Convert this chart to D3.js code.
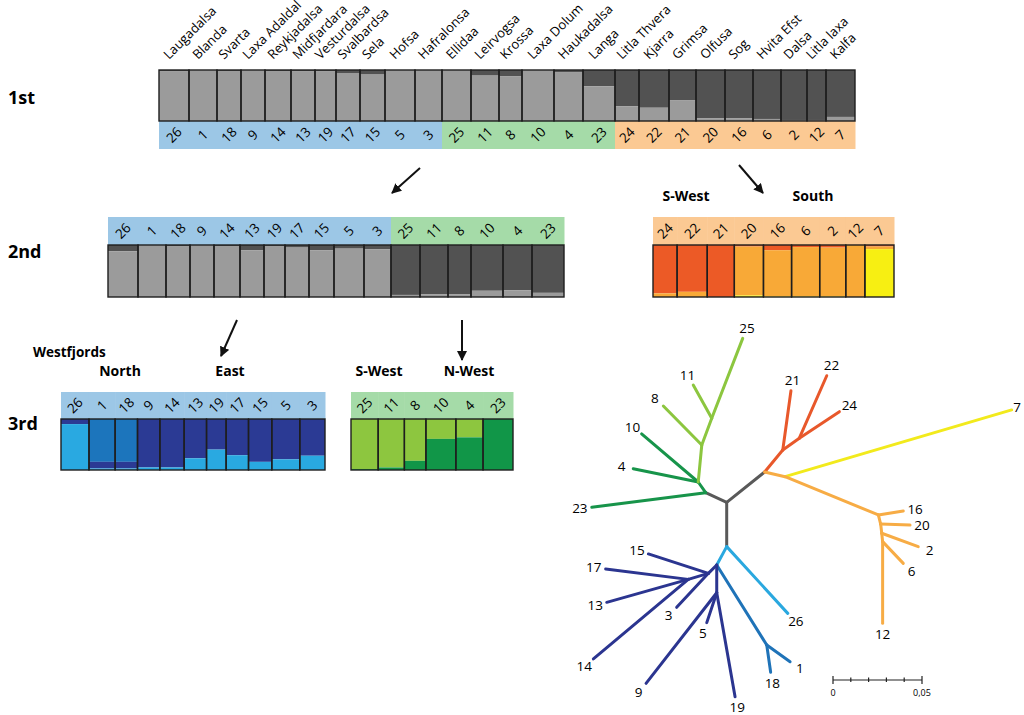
<!DOCTYPE html>
<html>
<head>
<meta charset="utf-8">
<script src="https://cdn.jsdelivr.net/npm/d3@7"></script>
<style>
  body { margin: 0; background: #fff; }
  text { font-family: "Open Sans", "Noto Sans", sans-serif; fill: #000; }
</style>
</head>
<body>
<svg id="fig" width="1024" height="715"></svg>
<script>
// --- Data ---
const pops = ["26","1","18","9","14","13","19","17","15","5","3","25","11","8","10","4","23","24","22","21","20","16","6","2","12","7"];
const riverNames = ["Laugadalsa","Blanda","Svarta","Laxa Adaldal","Reykjadalsa","Midfjardara","Vesturdalsa","Svalbardsa","Sela","Hofsa","Hafralonsa","Ellidaa","Leirvogsa","Krossa","Laxa Dolum","Haukadalsa","Langa","Litla Thvera","Kjarra","Grimsa","Olfusa","Sog","Hvita Efst","Dalsa","Litla laxa","Kalfa"];
const sampleSizes = [30,28,24,24,26,24,21,24,25,30,27,29,28,23,32,29,32,24,30,27,29,28,28,26,19,29];
const firstGroup = ["NE","NE","NE","NE","NE","NE","NE","NE","NE","NE","NE","W","W","W","W","W","W","S","S","S","S","S","S","S","S","S"];

// 1st level: dark-gray membership (rest light gray)
const level1Dark = [0.03,0.01,0.02,0.01,0.02,0.03,0.03,0.07,0.09,0.01,0.01,0.01,0.11,0.12,0.01,0.04,0.32,0.71,0.74,0.59,0.95,0.95,0.96,0.98,0.98,0.92];
// 2nd level, north/east + west set (first 17 pops): dark-gray membership
const level2aDark = [0.12,0.01,0.02,0.01,0.03,0.1,0.03,0.05,0.1,0.07,0.08,0.96,0.95,0.95,0.88,0.87,0.92];
// 2nd level, south set (last 9 pops): red / yellow membership (rest orange)
const level2bRed = [0.93,0.9,1.0,0.03,0.1,0.04,0.05,0.0,0.03];
const level2bYellow = [0,0,0,0.03,0.01,0.01,0.01,0,0.92];
// 3rd level, north/east (first 11 pops)
const level3aMid = [0,0.84,0.84,0,0,0,0,0,0,0,0];
const level3aLight = [0.9,0.03,0.03,0.05,0.05,0.23,0.4,0.29,0.16,0.21,0.28];
// 3rd level, west (pops 25..23): dark-green membership (rest light green)
const level3bDark = [0.02,0.05,0.18,0.61,0.64,1.0];

// Neighbour-joining tree: [node, parent, x, y, clade] in genetic distance units
const treeNodes = [
  ["B", null, 0, 0, "core"],
  ["A","B",-0.0118,-0.0054,"core"],
  ["C","B",0.0213,-0.0170,"core"],
  ["D","B",0,0.0249,"core"],
  ["23","A",-0.0758,0.0028,"nwest"],
  ["E","A",-0.0160,-0.0114,"nwest"],
  ["4","E",-0.0525,-0.0189,"nwest"],
  ["10","E",-0.0478,-0.0384,"nwest"],
  ["F","E",-0.0140,-0.0322,"swest"],
  ["8","F",-0.0356,-0.0541,"swest"],
  ["G","F",-0.0084,-0.0472,"swest"],
  ["11","G",-0.0188,-0.0659,"swest"],
  ["25","G",0.0090,-0.0921,"swest"],
  ["H","C",0.0315,-0.0294,"red"],
  ["21","H",0.0361,-0.0627,"red"],
  ["I","H",0.0408,-0.0360,"red"],
  ["22","I",0.0562,-0.0711,"red"],
  ["24","I",0.0633,-0.0509,"red"],
  ["J","C",0.0328,-0.0144,"south"],
  ["7","J",0.1601,-0.0519,"kalfa"],
  ["K","J",0.0852,0.0071,"south"],
  ["16","K",0.0992,0.0049,"south"],
  ["L","K",0.0865,0.0122,"south"],
  ["20","L",0.1030,0.0128,"south"],
  ["M","L",0.0871,0.0174,"south"],
  ["2","M",0.1076,0.0249,"south"],
  ["N","M",0.0876,0.0221,"south"],
  ["6","N",0.0992,0.0343,"south"],
  ["12","N",0.0876,0.0680,"south"],
  ["26","D",0.0343,0.0624,"wf"],
  ["O","D",-0.0056,0.0352,"wf"],
  ["P","O",0.0225,0.0802,"north"],
  ["1","P",0.0356,0.0896,"north"],
  ["18","P",0.0247,0.0955,"north"],
  ["R","O",-0.0056,0.0508,"east"],
  ["19","R",0.0047,0.1092,"east"],
  ["5","R",-0.0112,0.0676,"east"],
  ["9","R",-0.0453,0.1017,"east"],
  ["Q","O",-0.0103,0.0399,"east"],
  ["15","Q",-0.0440,0.0290,"east"],
  ["3","Q",-0.0281,0.0590,"east"],
  ["S","Q",-0.0216,0.0433,"east"],
  ["17","S",-0.0680,0.0375,"east"],
  ["13","S",-0.0674,0.0562,"east"],
  ["14","S",-0.0749,0.0880,"east"]
];
const scaleTicks = [0,0.01,0.02,0.03,0.04,0.05];

// --- Colours ---
const bandColor = { NE: "#9cc7e6", W: "#a5dba8", S: "#fbc993" };
const cladeColor = {
  core: "#595959", nwest: "#17944a", swest: "#8cc63f", red: "#e8582b",
  south: "#f7ac45", kalfa: "#f2ea1c", wf: "#2aa8df", north: "#1f73b8", east: "#2b3590"
};

const svg = d3.select("#fig");
svg.append("rect").attr("width", 1024).attr("height", 715).attr("fill", "#fff");

// --- STRUCTURE-like bar panels ---
function drawPanel({ from, to, x0, x1, boxTop, boxBottom, bandTop, bandBottom, keys, colors, values, names }) {
  const idx = d3.range(from, to);
  const cum = [0];
  idx.forEach(i => cum.push(cum[cum.length - 1] + sampleSizes[i]));
  const x = d3.scaleLinear().domain([0, cum[cum.length - 1]]).range([x0, x1]);
  const y = d3.scaleLinear().domain([0, 1]).range([boxTop, boxBottom]);

  const rows = idx.map((i, k) => {
    const r = { pop: pops[i], start: cum[k], end: cum[k + 1], group: firstGroup[i], name: riverNames[i] };
    keys.forEach(key => r[key] = values[key][k]);
    return r;
  });
  const stacked = d3.stack().keys(keys)(rows);
  const g = svg.append("g");

  // label band
  g.selectAll("rect.band").data(rows).join("rect")
    .attr("x", d => x(d.start)).attr("width", d => x(d.end) - x(d.start) + 0.5)
    .attr("y", bandTop).attr("height", bandBottom - bandTop)
    .attr("fill", d => bandColor[d.group]);

  g.selectAll("text.num").data(rows).join("text")
    .attr("transform", d => `translate(${(x(d.start) + x(d.end)) / 2},${(bandTop + bandBottom) / 2}) rotate(-45)`)
    .attr("text-anchor", "middle").attr("dy", "0.35em")
    .attr("font-size", 13.5).text(d => d.pop);

  // membership layers
  stacked.forEach((layer, li) => {
    g.append("g").selectAll("rect").data(layer).join("rect")
      .attr("x", d => x(d.data.start)).attr("width", d => x(d.data.end) - x(d.data.start))
      .attr("y", d => y(d[0])).attr("height", d => y(d[1]) - y(d[0]))
      .attr("fill", colors[li]);
  });

  g.selectAll("rect.cell").data(rows).join("rect")
    .attr("x", d => x(d.start)).attr("width", d => x(d.end) - x(d.start))
    .attr("y", boxTop).attr("height", boxBottom - boxTop)
    .attr("fill", "none").attr("stroke", "#1e1e1e").attr("stroke-width", 1.4);

  if (names) {
    g.selectAll("text.name").data(rows).join("text")
      .attr("transform", d => `translate(${(x(d.start) + x(d.end)) / 2 - 5},60) rotate(-45)`)
      .attr("font-size", 13).text(d => d.name);
  }
}

// 1st level
drawPanel({
  from: 0, to: 26, x0: 159, x1: 855, boxTop: 70, boxBottom: 121, bandTop: 121, bandBottom: 149,
  keys: ["dark", "light"], colors: ["#525252", "#9b9b9b"],
  values: { dark: level1Dark, light: level1Dark.map(v => 1 - v) }, names: true
});
// 2nd level
drawPanel({
  from: 0, to: 17, x0: 108, x1: 564, boxTop: 245, boxBottom: 297, bandTop: 217, bandBottom: 245,
  keys: ["dark", "light"], colors: ["#525252", "#9b9b9b"],
  values: { dark: level2aDark, light: level2aDark.map(v => 1 - v) }
});
drawPanel({
  from: 17, to: 26, x0: 653, x1: 894, boxTop: 245, boxBottom: 297, bandTop: 217, bandBottom: 245,
  keys: ["red", "orange", "yellow"], colors: ["#ec5a26", "#f8a937", "#f7ef12"],
  values: { red: level2bRed, yellow: level2bYellow, orange: level2bRed.map((v, i) => 1 - v - level2bYellow[i]) }
});
// 3rd level
drawPanel({
  from: 0, to: 11, x0: 61, x1: 325, boxTop: 419, boxBottom: 470, bandTop: 392, bandBottom: 419,
  keys: ["mid", "navy", "light"], colors: ["#1c75bc", "#2b3a94", "#29a9e1"],
  values: { mid: level3aMid, light: level3aLight, navy: level3aMid.map((v, i) => 1 - v - level3aLight[i]) }
});
drawPanel({
  from: 11, to: 17, x0: 351, x1: 513, boxTop: 419, boxBottom: 470, bandTop: 392, bandBottom: 419,
  keys: ["lightg", "darkg"], colors: ["#8dc63f", "#119648"],
  values: { darkg: level3bDark, lightg: level3bDark.map(v => 1 - v) }
});

// --- Level titles and region labels ---
const bold = (x, y, t, size, anchor) => svg.append("text").attr("x", x).attr("y", y)
  .attr("font-size", size).attr("font-weight", 700).attr("text-anchor", anchor || "start").text(t);
bold(8, 104, "1st", 18);
bold(8, 258, "2nd", 18);
bold(8, 430, "3rd", 18);
bold(686, 201, "S-West", 14, "middle");
bold(813, 201, "South", 14, "middle");
bold(33, 357, "Westfjords", 13.5);
bold(120, 376, "North", 14, "middle");
bold(230, 376, "East", 14, "middle");
bold(379, 376, "S-West", 14, "middle");
bold(469, 376, "N-West", 14, "middle");

// --- Arrows ---
svg.append("defs").append("marker").attr("id", "head")
  .attr("viewBox", "0 0 10 10").attr("refX", 9).attr("refY", 5)
  .attr("markerWidth", 5).attr("markerHeight", 5).attr("orient", "auto")
  .append("path").attr("d", "M0,0 L10,5 L0,10 Z").attr("fill", "#111");
[[420,168,392,193],[739,165,763,193],[237,320,221,356],[462,320,462,360]].forEach(a => {
  svg.append("line").attr("x1", a[0]).attr("y1", a[1]).attr("x2", a[2]).attr("y2", a[3])
    .attr("stroke", "#111").attr("stroke-width", 2).attr("marker-end", "url(#head)");
});

// --- Tree ---
const distPx = d3.scaleLinear().domain([0, 0.05]).range([0, 89]);
const tx = v => 726.7 + distPx(v);
const ty = v => 502.3 + distPx(v);
const nodeById = new Map(treeNodes.map(n => [n[0], n]));
const edges = treeNodes.filter(n => n[1] !== null);
const tree = svg.append("g");
tree.selectAll("line").data(edges).join("line")
  .attr("x1", d => tx(nodeById.get(d[1])[2])).attr("y1", d => ty(nodeById.get(d[1])[3]))
  .attr("x2", d => tx(d[2])).attr("y2", d => ty(d[3]))
  .attr("stroke", d => cladeColor[d[4]]).attr("stroke-width", 3).attr("stroke-linecap", "round");

const leaves = treeNodes.filter(n => pops.includes(n[0]));
tree.selectAll("text").data(leaves).join("text")
  .each(function (d) {
    const p = nodeById.get(d[1]);
    const dx = tx(d[2]) - tx(p[2]), dy = ty(d[3]) - ty(p[3]);
    const len = Math.hypot(dx, dy);
    d3.select(this)
      .attr("x", Math.min(tx(d[2]) + dx / len * 12, 1017))
      .attr("y", ty(d[3]) + dy / len * 11)
      .attr("dy", "0.35em");
  })
  .attr("text-anchor", "middle").attr("font-size", 13.5).text(d => d[0]);

// --- Scale bar ---
const bar = d3.scaleLinear().domain([0, 0.05]).range([833, 922]);
const sb = svg.append("g");
sb.append("line").attr("x1", bar(0)).attr("x2", bar(0.05)).attr("y1", 680).attr("y2", 680)
  .attr("stroke", "#222").attr("stroke-width", 1.2);
sb.selectAll("line.t").data(scaleTicks).join("line")
  .attr("x1", d => bar(d)).attr("x2", d => bar(d))
  .attr("y1", (d, i) => (i === 0 || i === scaleTicks.length - 1) ? 676 : 677.5)
  .attr("y2", (d, i) => (i === 0 || i === scaleTicks.length - 1) ? 684 : 682)
  .attr("stroke", "#222").attr("stroke-width", 1.2);
sb.selectAll("text").data([0, 0.05]).join("text")
  .attr("x", d => bar(d)).attr("y", 696).attr("text-anchor", "middle").attr("font-size", 9)
  .text(d => d === 0 ? "0" : "0,05");
</script>
</body>
</html>
